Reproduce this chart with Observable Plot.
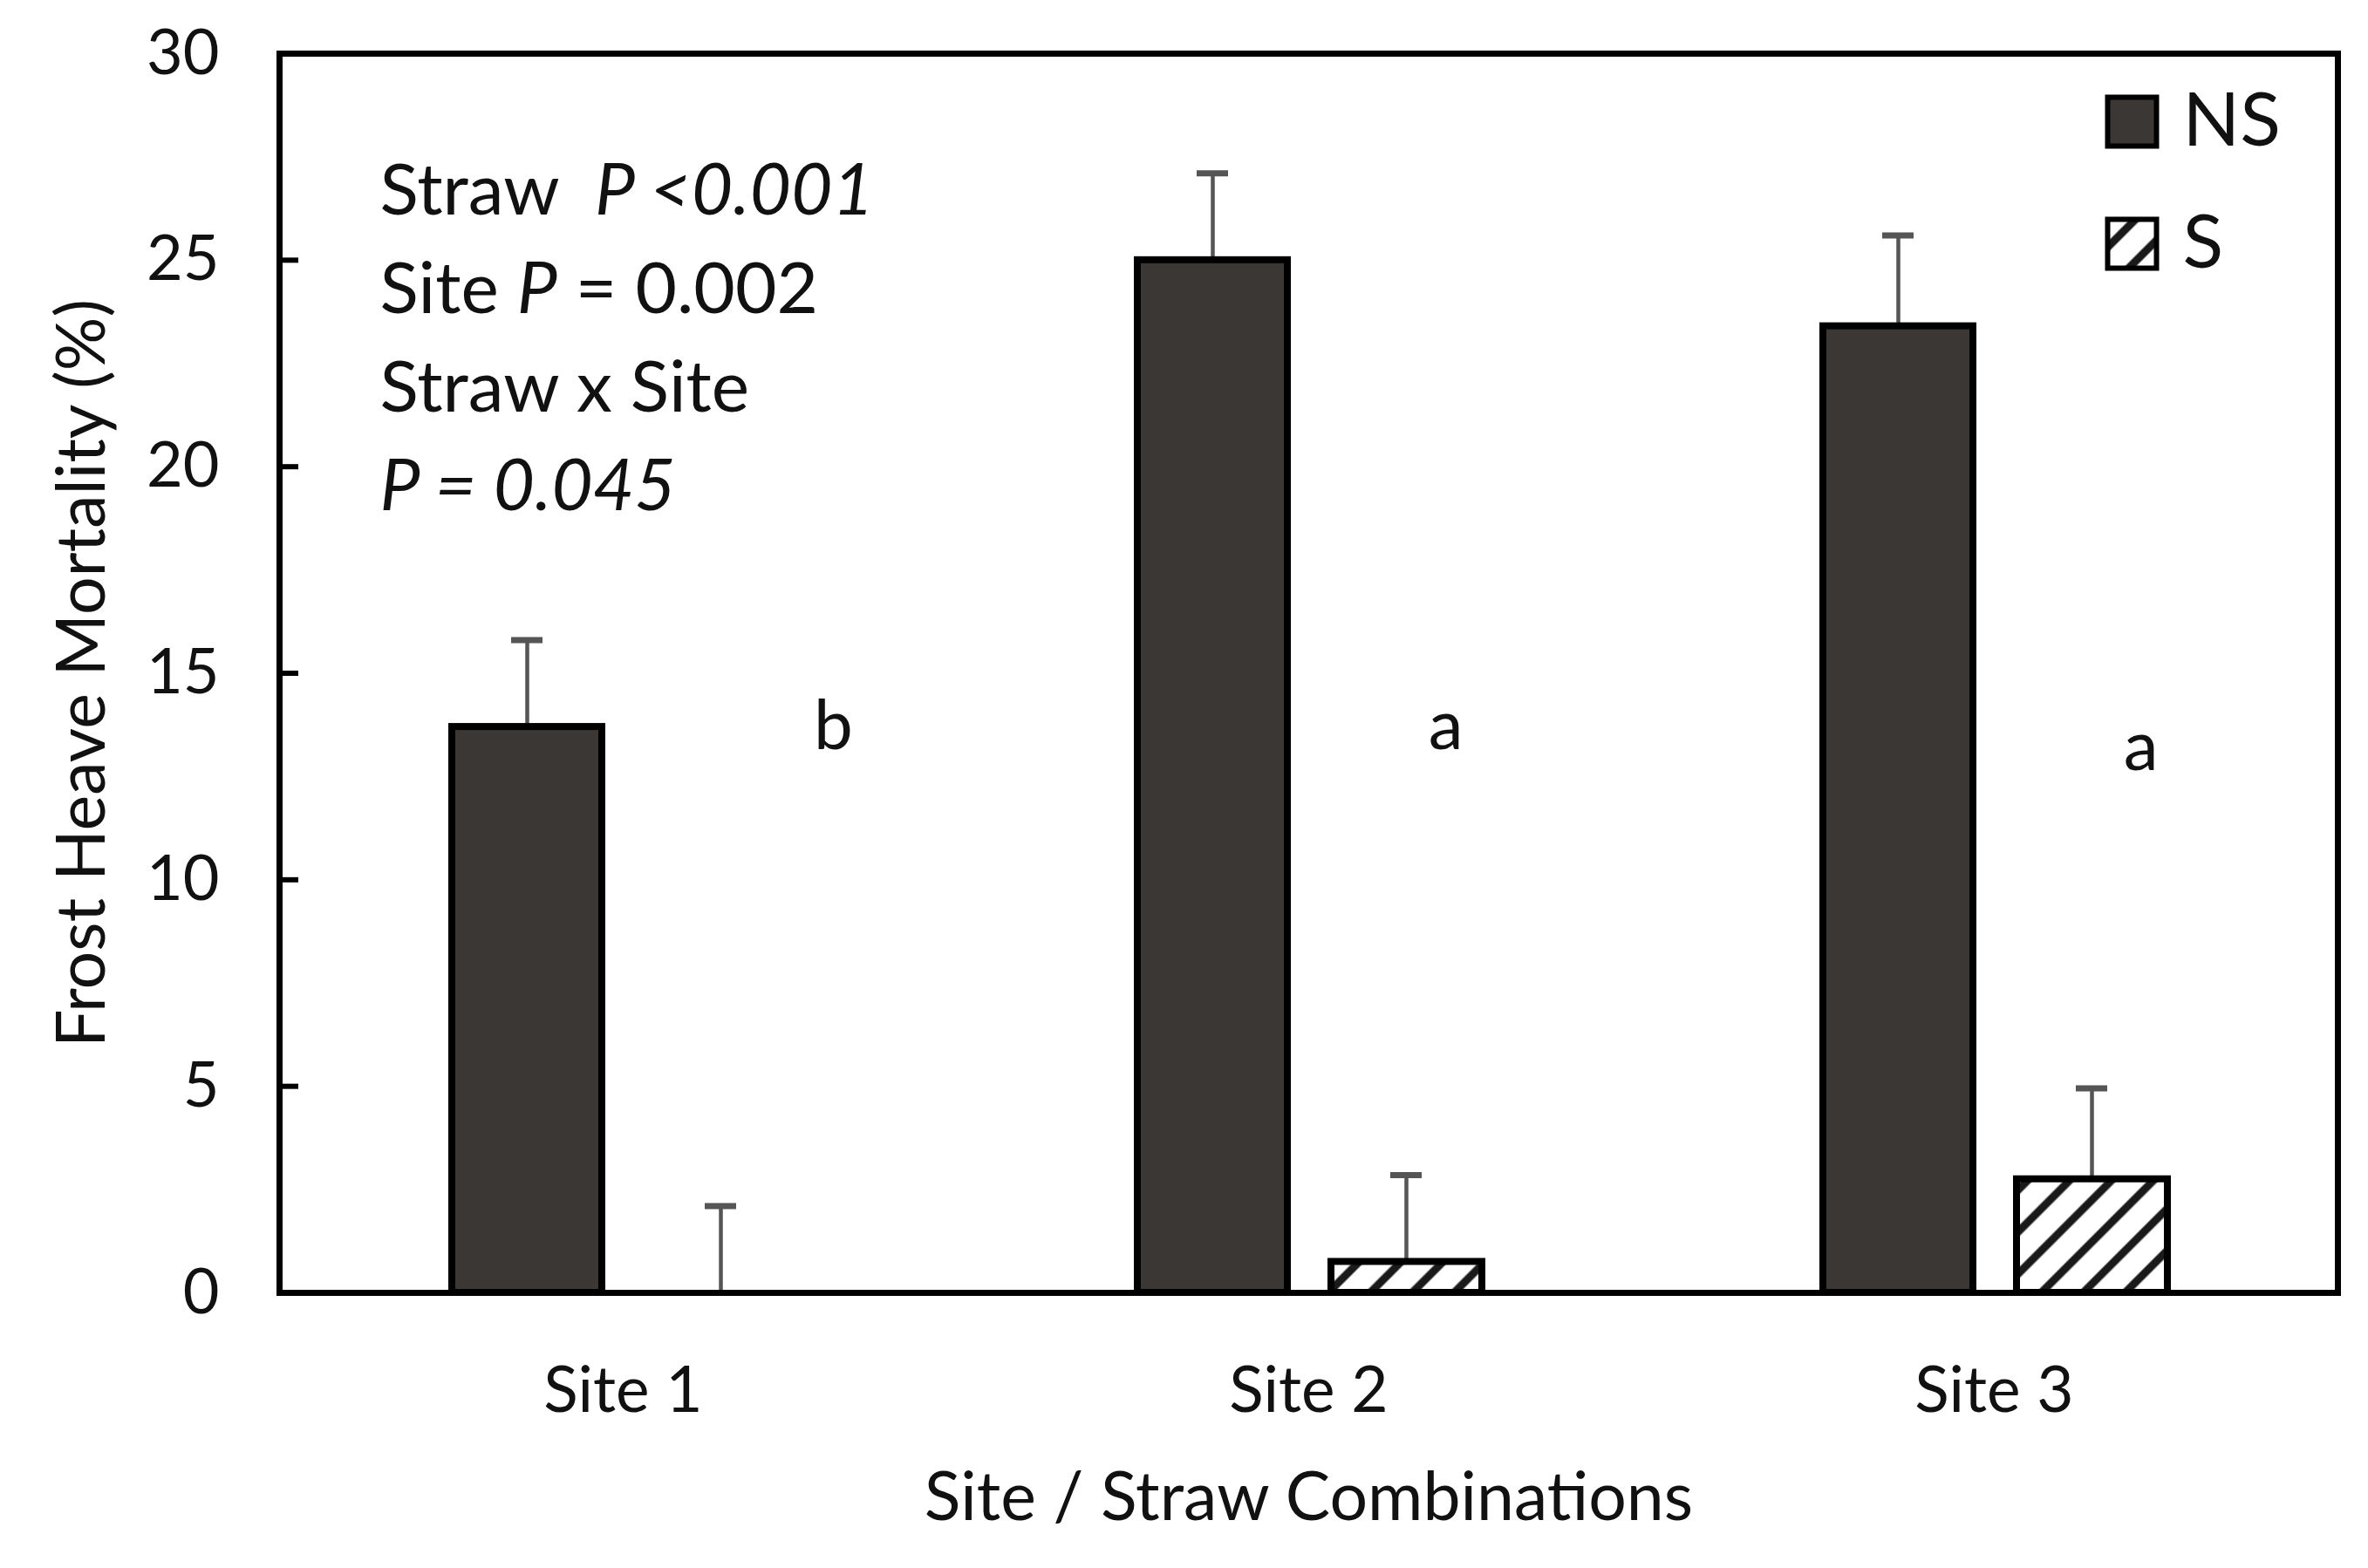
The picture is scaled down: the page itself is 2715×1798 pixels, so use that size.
<!DOCTYPE html>
<html><head><meta charset="utf-8">
<script src="https://cdn.jsdelivr.net/npm/d3@7"></script>
<script src="https://cdn.jsdelivr.net/npm/@observablehq/plot@0.6"></script>
<style>
html,body{margin:0;padding:0;background:#fff;}
#chart svg{display:block;}
#chart text{white-space:pre;}
</style></head>
<body><div id="chart"></div>
<script>
// ---- data ----
const sites = ["Site 1", "Site 2", "Site 3"];
const legendLabels = ["NS", "S"];
const nsMean = [13.7, 25.0, 23.4];
const nsErr = [2.1, 2.1, 2.2];
const sMean = [0, 0.75, 2.75];
const sErr = [2.1, 2.1, 2.2];
const yTicks = [0, 5, 10, 15, 20, 25, 30];
const letters = ["b", "a", "a"];
const letterY = [13.7, 13.7, 13.2];
const annotationLines = [
  [["Straw  ", false], ["P <0.001", true]],
  [["Site ", false], ["P", true], [" = 0.002", false]],
  [["Straw x Site", false]],
  [["P = 0.045", true]]
];
const xTitle = "Site / Straw Combinations";
const yTitle = "Frost Heave Mortality (%)";

// ---- layout ----
const W = 2715, H = 1798;
const mL = 320, mR = 35, mT = 61, mB = 316;
const innerW = W - mL - mR;
const font = "Lato, 'Open Sans', sans-serif";
const ink = "#111";
const barFill = "#3b3734";
const errColor = "#555";

const ns = sites.map((site, i) => ({site, mean: nsMean[i], top: nsMean[i] + nsErr[i]}));
const s = sites.map((site, i) => ({site, mean: sMean[i], top: sMean[i] + sErr[i]}));
const letterData = sites.map((site, i) => ({site, y: letterY[i], t: letters[i]}));
const annotText = annotationLines.map(l => l.map(p => p[0]).join("")).join("\n");

const svg = Plot.plot({
  width: W, height: H,
  marginLeft: mL, marginRight: mR, marginTop: mT, marginBottom: mB,
  style: {fontFamily: font, fontSize: "72px", color: ink, background: "#fff"},
  x: {type: "band", domain: sites, padding: 0, label: null},
  y: {domain: [0, 30], label: null},
  marks: [
    // error bars (behind bars)
    Plot.ruleX(ns, {x: "site", y1: "mean", y2: "top", dx: -110, stroke: errColor, strokeWidth: 4.5}),
    Plot.tickY(ns, {x: "site", y: "top", insetLeft: 265, insetRight: 485, stroke: errColor, strokeWidth: 7}),
    Plot.ruleX(s, {x: "site", y1: "mean", y2: "top", dx: 112, stroke: errColor, strokeWidth: 4.5}),
    Plot.tickY(s, {x: "site", y: "top", insetLeft: 487, insetRight: 263, stroke: errColor, strokeWidth: 7}),
    // bars
    Plot.barY(ns, {x: "site", y: "mean", fill: barFill, stroke: "#000", strokeWidth: 8, insetLeft: 197, insetRight: 417}),
    Plot.barY(s, {x: "site", y: "mean", fill: "url(#hatch)", stroke: "#000", strokeWidth: 8, insetLeft: 419, insetRight: 194}),
    // frame and axes
    Plot.frame({stroke: "#000", strokeWidth: 7}),
    Plot.tickY(yTicks.filter(v => v > 0 && v < 30), {y: d => d, insetRight: innerW - 22, stroke: "#000", strokeWidth: 6}),
    Plot.axisY({ticks: yTicks, tickSize: 0, tickPadding: 69, fontSize: 72, label: null, fill: ink}),
    Plot.axisX({tickSize: 0, tickPadding: 85, fontSize: 73, label: null, fill: ink}),
    Plot.text([xTitle], {text: d => d, frameAnchor: "bottom", dy: 236, lineAnchor: "middle", fontSize: 77, fill: ink}),
    Plot.text([yTitle], {text: d => d, frameAnchor: "left", dx: -225, rotate: -90, textAnchor: "middle", lineAnchor: "middle", fontSize: 77, fill: ink}),
    // significance letters
    Plot.text(letterData.slice(0, 1), {x: "site", y: "y", text: "t", dx: 241, lineAnchor: "middle", fontSize: 80, fill: ink}),
    Plot.text(letterData.slice(1, 2), {x: "site", y: "y", text: "t", dx: 157, lineAnchor: "middle", fontSize: 80, fill: ink}),
    Plot.text(letterData.slice(2, 3), {x: "site", y: "y", text: "t", dx: 168, lineAnchor: "middle", fontSize: 80, fill: ink}),
    // statistics annotation
    Plot.text([annotText], {text: d => d, frameAnchor: "top-left", dx: 115, dy: 104, textAnchor: "start", lineAnchor: "top", lineHeight: 1.38, fontSize: 82, fill: ink}),
    // legend
    Plot.dot([legendLabels[0]], {frameAnchor: "top-right", dx: -236, dy: 78, symbol: "square", r: 31.6, fill: barFill, stroke: "#000", strokeWidth: 6}),
    Plot.dot([legendLabels[1]], {frameAnchor: "top-right", dx: -236, dy: 218, symbol: "square", r: 31.6, fill: "url(#hatch)", stroke: "#000", strokeWidth: 6}),
    Plot.text([legendLabels[0]], {text: d => d, frameAnchor: "top-right", dx: -178, dy: 78, textAnchor: "start", lineAnchor: "middle", fontSize: 86, fill: ink}),
    Plot.text([legendLabels[1]], {text: d => d, frameAnchor: "top-right", dx: -178, dy: 218, textAnchor: "start", lineAnchor: "middle", fontSize: 86, fill: ink})
  ]
});

// hatch pattern
const defs = d3.select(svg).insert("defs", ":first-child");
const pat = defs.append("pattern").attr("id", "hatch").attr("patternUnits", "userSpaceOnUse")
  .attr("width", 34).attr("height", 34).attr("patternTransform", "rotate(45)");
pat.append("rect").attr("width", 34).attr("height", 34).attr("fill", "#fff");
pat.append("line").attr("x1", 17).attr("y1", -2).attr("x2", 17).attr("y2", 36)
  .attr("stroke", "#1a1a1a").attr("stroke-width", 9);

// italic segments in the annotation
const lineStrings = annotationLines.map(l => l.map(p => p[0]).join(""));
svg.querySelectorAll("tspan").forEach(ts => {
  const idx = lineStrings.indexOf(ts.textContent);
  if (idx < 0) return;
  ts.textContent = "";
  annotationLines[idx].forEach(([t, it]) => {
    const sp = document.createElementNS("http://www.w3.org/2000/svg", "tspan");
    sp.textContent = t;
    if (it) sp.setAttribute("font-style", "italic");
    ts.appendChild(sp);
  });
});

document.getElementById("chart").appendChild(svg);
</script>
</body></html>
